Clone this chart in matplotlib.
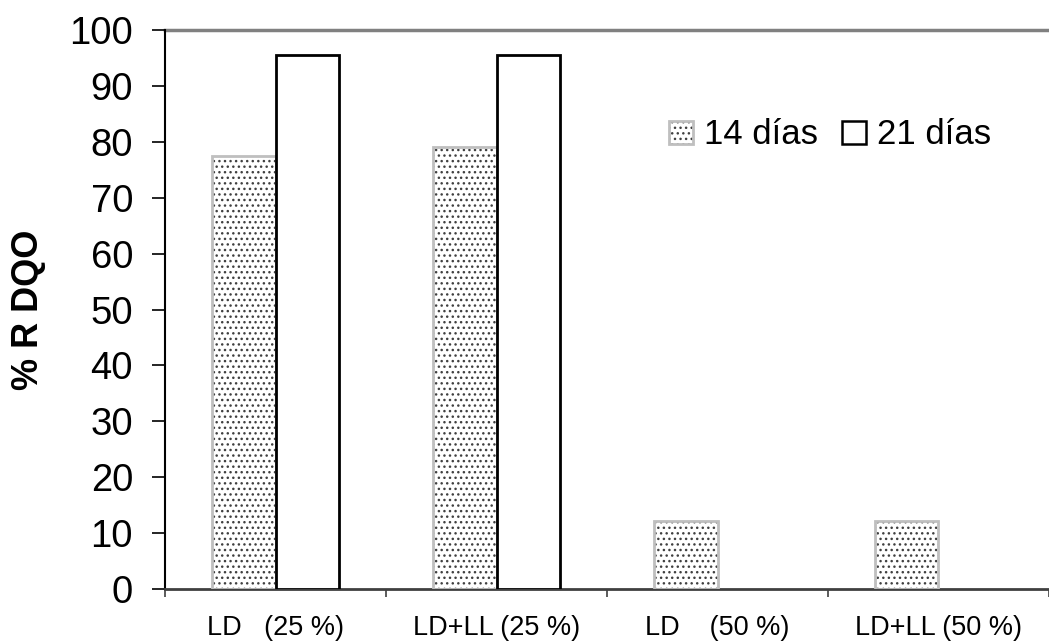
import matplotlib.pyplot as plt
import numpy as np
from matplotlib.legend_handler import HandlerTuple
from matplotlib.patches import Rectangle

plt.rcParams["font.family"] = ["Liberation Sans", "DejaVu Sans"]
plt.rcParams["hatch.linewidth"] = 1.0

categories = ["LD   (25 %)", "LD+LL (25 %)", "LD    (50 %)", "LD+LL (50 %)"]
dias_14 = [77.4, 79.0, 12.2, 12.2]
dias_21 = [95.5, 95.5, 0, 0]
y_ticks = list(range(0, 101, 10))

W, H = 1049, 642
fig = plt.figure(figsize=(W / 100, H / 100), dpi=100)
ax = fig.add_axes([165 / W, 1 - 589 / H, 1 - 165 / W, (589 - 30) / H])

x = np.arange(len(categories))
bw = 0.2857
v14 = np.array(dias_14)
v21 = np.array(dias_21)
has21 = v21 > 0

# dotted bars: hatch drawn first, gray outline on top
ax.bar(x - bw / 2, v14, bw, color="white", edgecolor="#404040",
       hatch="...", linewidth=0, zorder=2)
ax.bar(x - bw / 2, v14, bw, fill=False, edgecolor="#bfbfbf",
       linewidth=2, zorder=3)
ax.bar(x[has21] + bw / 2, v21[has21], bw, color="white", edgecolor="black",
       linewidth=2, zorder=3)

ax.set_xlim(-0.5, -0.5 + (W - 165) / 224)
ax.set_ylim(0, 100)

for side in ["top", "right"]:
    ax.spines[side].set_visible(False)
ax.spines["left"].set_color("black")
ax.spines["left"].set_linewidth(1.5)
ax.spines["bottom"].set_color("#404040")
ax.spines["bottom"].set_linewidth(2)
ax.axhline(100, color="#808080", lw=2.5, zorder=1, clip_on=False)

ax.set_yticks(y_ticks)
ax.tick_params(axis="y", direction="out", length=9.5, width=1.2,
               color="black", labelsize=27.5, pad=13.5)
ax.yaxis.get_major_ticks()[-1].tick1line.set_color("#808080")

ax.set_xticks(x)
ax.set_xticklabels(categories)
ax.tick_params(axis="x", which="major", length=0, labelsize=19.5, pad=19)
ax.set_xticks(np.arange(-0.5, len(categories), 1), minor=True)
ax.tick_params(axis="x", which="minor", direction="out", length=6,
               width=1.2, color="#404040")

fig.text(28 / W, 1 - 310 / H, "% R DQO", rotation=90, ha="center",
         va="center", fontsize=26, fontweight="bold")

h14 = (Rectangle((0, 0), 1, 1, facecolor="white", edgecolor="#404040",
                 hatch="...", linewidth=0),
       Rectangle((0, 0), 1, 1, fill=False, edgecolor="#bfbfbf", linewidth=2))
h21 = Rectangle((0, 0), 1, 1, facecolor="white", edgecolor="black",
                linewidth=1.8)
fig.legend([h14, h21], ["14 días", "21 días"], ncols=2, frameon=False,
           loc="center left", bbox_to_anchor=(669 / W, 1 - 135 / H),
           fontsize=25, handlelength=0.7, handleheight=0.65,
           handletextpad=0.3, columnspacing=0.7, borderpad=0,
           borderaxespad=0, handler_map={tuple: HandlerTuple(ndivide=1)})

fig.savefig("out.png", dpi=100)
